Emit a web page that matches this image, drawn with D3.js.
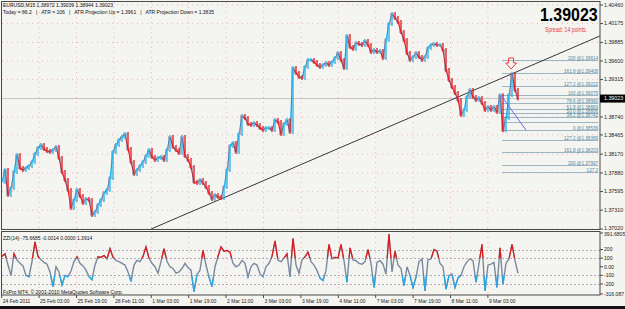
<!DOCTYPE html>
<html>
<head>
<meta charset="utf-8">
<script src="https://cdn.jsdelivr.net/npm/d3@7"></script>
<style>
  body { margin: 0; background: #f5f5f2; }
  svg { display: block; }
  text { font-family: "Liberation Sans", Arial, sans-serif; }
</style>
</head>
<body>
<div id="chart"></div>
<script>
// EURUSD M15 closes, one sample every ~3px of the original chart
const closes = [
  1.37742,1.37926,1.37542,1.37650,1.37896,1.38157,1.37957,1.37926,1.37957,1.37988,
  1.38049,1.38172,1.38264,1.38310,1.38249,1.38218,1.38203,1.38233,1.38280,1.38111,
  1.37896,1.37773,1.37619,1.37343,1.37465,1.37619,1.37527,1.37419,1.37481,1.37465,
  1.37235,1.37281,1.37389,1.37465,1.37573,1.37619,1.37803,1.38203,1.38310,1.38387,
  1.38433,1.38479,1.38249,1.38049,1.37865,1.37926,1.37988,1.38049,1.38141,1.38233,
  1.38126,1.38080,1.38111,1.38126,1.38080,1.38233,1.38433,1.38280,1.38233,1.38187,
  1.38433,1.38141,1.38080,1.37972,1.37742,1.37727,1.37773,1.37727,1.37665,1.37573,
  1.37481,1.37542,1.37512,1.37496,1.37665,1.37926,1.38295,1.38341,1.38203,1.38479,
  1.38756,1.38725,1.38633,1.38617,1.38648,1.38617,1.38571,1.38541,1.38571,1.38571,
  1.38541,1.38694,1.38664,1.38479,1.38633,1.38694,1.38510,1.39493,1.39416,1.39355,
  1.39339,1.39508,1.39616,1.39616,1.39585,1.39539,1.39508,1.39539,1.39570,1.39539,
  1.39585,1.39647,1.39723,1.39616,1.39493,1.39985,1.39816,1.39785,1.39877,1.39862,
  1.39846,1.39908,1.39846,1.39739,1.39769,1.39739,1.39754,1.39647,1.39923,1.40169,
  1.40322,1.40261,1.40200,1.40046,1.39923,1.39723,1.39616,1.39662,1.39723,1.39662,
  1.39616,1.39662,1.39800,1.39846,1.39862,1.39846,1.39846,1.39769,1.39462,1.39309,
  1.39201,1.39109,1.39001,1.38771,1.38848,1.39048,1.39155,1.39048,1.39001,1.39032,
  1.38955,1.38848,1.38894,1.38848,1.38894,1.38817,1.39075,1.38536,1.38725,1.39078,
  1.39400,1.39155,1.39023
];

// ZZI(14) oscillator, same sampling
const zzi = [
  120,150,20,-100,150,80,40,10,-100,-115,
  60,290,120,80,50,30,-60,-230,0,-60,
  -210,-100,-115,-50,60,115,40,10,-40,-115,
  -150,20,115,110,130,90,210,110,75,60,
  40,20,-60,-170,20,75,60,120,230,100,
  40,0,-75,60,210,60,0,-20,-75,-60,
  -20,40,-10,-40,-290,-90,-40,190,20,-120,
  -230,0,120,230,180,190,170,40,0,20,
  75,40,-115,0,40,20,-80,-115,0,40,
  120,300,75,60,100,150,-115,330,20,-75,
  80,115,170,60,20,-45,-130,-160,-45,260,
  90,110,100,260,70,-180,220,80,70,40,
  30,60,200,40,-240,50,70,30,-85,380,
  -60,180,20,-20,-220,0,-100,-240,-120,60,
  90,-280,80,90,200,180,40,0,-260,-100,
  -85,-240,-130,-100,0,60,90,70,-180,40,
  260,-280,20,30,50,-240,220,-200,40,90,
  260,70,-75.67
];

const priceTicks = ['1.40460','1.40175','1.39885','1.39600','1.39315','1.38740','1.38465','1.38170','1.37880','1.37595','1.37310','1.37020'];
const zziTicks = ['391.6805','200','100','0.00','-100','-200','-316.087'];
const zziLevels = [200, 100, -100, -200];
const timeLabels = ['24 Feb 2011','25 Feb 03:00','25 Feb 19:00','28 Feb 11:00','1 Mar 03:00','1 Mar 19:00','2 Mar 11:00','3 Mar 03:00','3 Mar 19:00','4 Mar 11:00','7 Mar 03:00','7 Mar 19:00','8 Mar 11:00','9 Mar 03:00'];

// fibonacci object: 0 at the low, 100 at the high
const fib0 = 1.38536, fib100 = 1.39075;
const fibLevels = [200, 161.8, 127.2, 100, 78.6, 61.8, 50, 38.2, 23.6, 0, -27.2, -61.8, -100];
const fibNames = ['200','161.8','127.2','100','78.6','61.8','50.0','38.2','','0','127.2','161.8','200'];
const extraLevel = {name: '127.2', price: 1.37895};
const trendPts = [[49.7, 1.37020], [199.3, 1.39984]];
const fibDiag = [[166.3, 1.39075], [174.7, 1.38536]];
const lastPrice = 1.39023;

const W = 625, H = 309;
const up = '#22b0ec', down = '#e3141e';

const svg = d3.select('#chart').append('svg').attr('width', W).attr('height', H);
svg.append('rect').attr('width', W).attr('height', H).attr('fill', '#f4f5f1');

const x = d3.scaleLinear().domain([0, closes.length - 1]).range([2, 518]);
const y = d3.scaleLinear().domain([1.37020, 1.40460]).range([229, 5]);
const yz = d3.scaleLinear().domain([-316.087, 391.6805]).range([294, 233]);
const xt = d3.scaleLinear().domain([0, 1]).range([1.7, 39.1]);

const defs = svg.append('defs');
defs.append('clipPath').attr('id', 'mainclip').append('rect')
    .attr('x', 2).attr('y', 1).attr('width', 598).attr('height', 228);
defs.append('clipPath').attr('id', 'hiclip').append('rect')
    .attr('x', 2).attr('y', 231).attr('width', 598).attr('height', yz(100) - 231);
defs.append('clipPath').attr('id', 'loclip').append('rect')
    .attr('x', 2).attr('y', yz(-100)).attr('width', 598).attr('height', 295 - yz(-100));

// grid (dotted, pink)
const grid = svg.append('g').attr('stroke', '#ecb6b6').attr('stroke-dasharray', '1,4');
grid.selectAll('line.v').data(timeLabels).join('line')
    .attr('x1', (d, i) => xt(i)).attr('x2', (d, i) => xt(i))
    .attr('y1', 2).attr('y2', 229);
grid.selectAll('line.v2').data(timeLabels).join('line')
    .attr('x1', (d, i) => xt(i)).attr('x2', (d, i) => xt(i))
    .attr('y1', 232).attr('y2', 295);
grid.selectAll('line.h').data(priceTicks).join('line')
    .attr('x1', 2).attr('x2', 600)
    .attr('y1', d => y(+d)).attr('y2', d => y(+d));

// bid line
svg.append('line').attr('x1', 2).attr('x2', 600)
    .attr('y1', y(lastPrice)).attr('y2', y(lastPrice))
    .attr('stroke', '#c9c4c4').attr('stroke-width', 1);

const main = svg.append('g').attr('clip-path', 'url(#mainclip)');

// fibonacci levels
const fibG = main.append('g');
const fibData = fibLevels.map((l, i) => ({name: fibNames[i], price: fib0 + l / 100 * (fib100 - fib0)}));
fibData.push(extraLevel);
fibG.selectAll('line').data(fibData).join('line')
    .attr('x1', x(166.7)).attr('x2', x(198.7))
    .attr('y1', d => Math.round(y(d.price)) + 0.5).attr('y2', d => Math.round(y(d.price)) + 0.5)
    .attr('stroke', '#9db5c2').attr('stroke-width', 1);
fibG.selectAll('text').data(fibData.filter(d => d.name)).join('text')
    .attr('x', x(198.7)).attr('y', d => Math.round(y(d.price)) - 0.3)
    .attr('text-anchor', 'end').attr('font-size', 4.6).attr('fill', '#4f87a3')
    .text(d => d === extraLevel ? d.name : d.name + ' @' + d.price.toFixed(5));

// trend line
main.append('line')
    .attr('x1', x(trendPts[0][0])).attr('y1', y(trendPts[0][1]))
    .attr('x2', x(trendPts[1][0])).attr('y2', y(trendPts[1][1]))
    .attr('stroke', '#3a3640').attr('stroke-width', 1);

// price bars
const pts = closes.map((c, i) => [i, c]);
const pairs = d3.pairs(pts);
main.selectAll('line.seg').data(pairs).join('line').attr('class', 'seg')
    .attr('x1', d => x(d[0][0])).attr('y1', d => y(d[0][1]))
    .attr('x2', d => x(d[1][0])).attr('y2', d => y(d[1][1]))
    .attr('stroke', d => d[1][1] >= d[0][1] ? up : down).attr('stroke-width', 1.1);
main.selectAll('line.bar').data(pairs).join('line').attr('class', 'bar')
    .attr('x1', d => x(d[1][0])).attr('x2', d => x(d[1][0]))
    .attr('y1', d => y(Math.max(d[0][1], d[1][1])) - 2)
    .attr('y2', d => y(Math.min(d[0][1], d[1][1])) + 2)
    .attr('stroke', d => d[1][1] >= d[0][1] ? up : down).attr('stroke-width', 1.3);
main.selectAll('line.mid').data(pairs).join('line').attr('class', 'mid')
    .attr('x1', d => x(d[1][0]) - 1.5).attr('x2', d => x(d[1][0]) - 1.5)
    .attr('y1', d => y(Math.max(d[0][1], d[1][1])) - 1)
    .attr('y2', d => y(Math.min(d[0][1], d[1][1])) + 1)
    .attr('stroke', '#6a5878').attr('stroke-opacity', 0.45).attr('stroke-width', 1);

// fib diagonal
main.append('line')
    .attr('x1', x(fibDiag[0][0])).attr('y1', y(fibDiag[0][1]))
    .attr('x2', x(fibDiag[1][0])).attr('y2', y(fibDiag[1][1]))
    .attr('stroke', '#6a6af0').attr('stroke-width', 1);

// arrow at the high
main.append('path')
    .attr('transform', 'translate(' + x(169.7) + ',' + y(1.39646) + ')')
    .attr('d', 'M-2.5,0h5v5h3l-5.5,6l-5.5,-6h3z')
    .attr('fill', 'none').attr('stroke', '#e84040').attr('stroke-width', 1);

// indicator
const zline = d3.line().x((d, i) => x(i)).y(d => yz(d));
const ind = svg.append('g');
ind.selectAll('line.lvl').data(zziLevels).join('line')
    .attr('x1', 2).attr('x2', 600)
    .attr('y1', d => Math.round(yz(d)) + 0.5).attr('y2', d => Math.round(yz(d)) + 0.5)
    .attr('stroke', '#b8a8b8').attr('stroke-dasharray', '2,2');
ind.append('path').datum(zzi).attr('d', zline)
    .attr('fill', 'none').attr('stroke', '#7a889e').attr('stroke-width', 1.4);
ind.append('path').datum(zzi).attr('d', zline).attr('clip-path', 'url(#hiclip)')
    .attr('fill', 'none').attr('stroke', '#e01818').attr('stroke-width', 1.2);
ind.append('path').datum(zzi).attr('d', zline).attr('clip-path', 'url(#loclip)')
    .attr('fill', 'none').attr('stroke', '#22a8e8').attr('stroke-width', 1.2);

// frames
const frame = svg.append('g').attr('fill', 'none').attr('stroke', '#4a4a4a').attr('stroke-width', 1);
frame.append('rect').attr('x', 1.5).attr('y', 1.5).attr('width', 598.5).attr('height', 228);
frame.append('rect').attr('x', 1.5).attr('y', 231.5).attr('width', 598.5).attr('height', 63.5);
svg.append('rect').attr('x', 0).attr('y', 306).attr('width', W).attr('height', 3).attr('fill', '#111');

// price axis
const pax = svg.append('g').attr('font-size', 5.3).attr('fill', '#222');
pax.selectAll('line').data(priceTicks).join('line')
    .attr('x1', 600).attr('x2', 603).attr('y1', d => y(+d)).attr('y2', d => y(+d))
    .attr('stroke', '#4a4a4a');
pax.selectAll('text').data(priceTicks).join('text')
    .attr('x', 604).attr('y', d => y(+d) - (d === '1.37020' ? 1 : 0)).attr('dy', '0.35em').text(d => d);
pax.append('rect').attr('x', 600).attr('y', y(lastPrice) - 4).attr('width', 25).attr('height', 8).attr('fill', '#000');
pax.append('text').attr('x', 604).attr('y', y(lastPrice)).attr('dy', '0.35em')
    .attr('fill', '#fff').text(lastPrice.toFixed(5));

// indicator axis
const zax = svg.append('g').attr('font-size', 5.1).attr('fill', '#222');
zax.selectAll('text').data(zziTicks).join('text')
    .attr('x', 604).attr('y', d => yz(+d) + (d === '391.6805' ? 1 : 0)).attr('dy', '0.35em').text(d => d);
zax.selectAll('line').data(zziTicks).join('line')
    .attr('x1', 600).attr('x2', 603).attr('y1', d => yz(+d)).attr('y2', d => yz(+d))
    .attr('stroke', '#4a4a4a');

// time axis
const tax = svg.append('g').attr('font-size', 5);
tax.selectAll('line').data(timeLabels).join('line')
    .attr('x1', (d, i) => xt(i)).attr('x2', (d, i) => xt(i))
    .attr('y1', 295).attr('y2', 298).attr('stroke', '#4a4a4a');
tax.selectAll('text').data(timeLabels).join('text')
    .attr('x', (d, i) => xt(i) + 1).attr('y', 303).attr('fill', '#222').text(d => d);

// header texts
svg.append('text').attr('x', 3).attr('y', 7).attr('font-size', 5).attr('fill', '#111')
    .text('EURUSD,M15  1.38972 1.39039 1.38944 1.39023');
svg.append('text').attr('x', 3).attr('y', 13.5).attr('font-size', 5).attr('fill', '#111')
    .attr('xml:space', 'preserve')
    .text('Today = 86.2   |   ATR = 106   |   ATR Projection Up = 1.3961   |   ATR Projection Down = 1.3835');
svg.append('text').attr('transform', 'translate(540,20.5) scale(0.84,1)')
    .attr('font-size', 19).attr('font-weight', 'bold').attr('fill', '#000')
    .text(lastPrice.toFixed(5));
svg.append('text').attr('transform', 'translate(545,32) scale(0.8,1)')
    .attr('font-size', 6.5).attr('fill', '#ee3a3a')
    .text('Spread: 14 points.');
svg.append('text').attr('x', 3).attr('y', 240).attr('font-size', 5).attr('fill', '#111')
    .text('ZZI(14) -75.6685 -0.0014 0.0000 1.3914');
svg.append('text').attr('x', 3).attr('y', 294).attr('font-size', 5).attr('fill', '#111')
    .text('FxPro MT4, © 2001-2010 MetaQuotes Software Corp.');
</script>
</body>
</html>
